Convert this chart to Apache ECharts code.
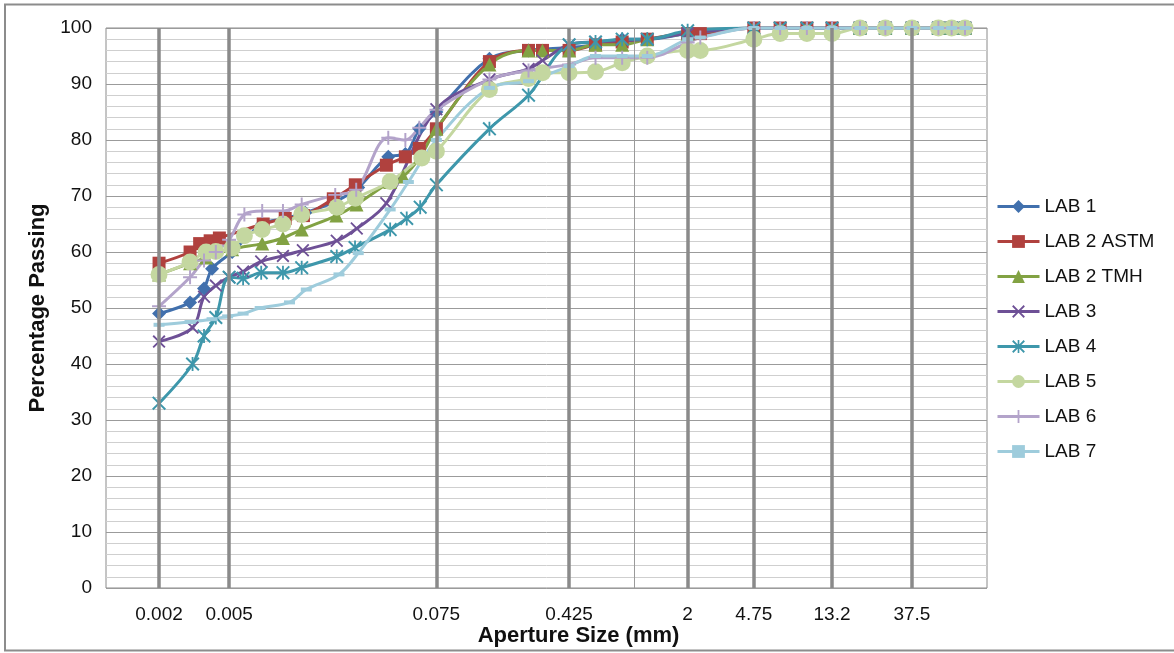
<!DOCTYPE html>
<html>
<head>
<meta charset="utf-8">
<script src="https://cdn.jsdelivr.net/npm/echarts@6/dist/echarts.min.js"></script>
<style>
  html, body { margin: 0; padding: 0; background: #ffffff; }
  #chart { width: 1174px; height: 653px; }
</style>
</head>
<body>
<div id="chart"></div>
<script>
// Particle size distribution: aperture size (mm) vs percentage passing, per lab.
const lab1Size = [0.002, 0.003, 0.0036, 0.004, 0.0052, 0.0077, 0.0104, 0.0135, 0.02, 0.027, 0.04, 0.05, 0.06, 0.075, 0.15, 0.25, 0.425, 0.6, 0.85, 1.18, 2, 4.75, 6.7, 9.5, 13.2, 19, 26.5, 37.5, 53, 63, 75];
const lab1Pass = [49, 51, 53.5, 57, 60, 65, 66, 67, 69, 71.5, 77, 77.5, 82, 85, 94.5, 96, 96.5, 97, 98, 98, 99, 100, 100, 100, 100, 100, 100, 100, 100, 100, 100];

const lab2AstmSize = [0.002, 0.003, 0.0034, 0.0039, 0.0044, 0.0078, 0.0104, 0.0132, 0.0195, 0.026, 0.039, 0.05, 0.06, 0.075, 0.15, 0.25, 0.3, 0.425, 0.6, 0.85, 1.18, 2, 2.36, 4.75, 6.7, 9.5, 13.2, 19, 26.5, 37.5, 53, 63, 75];
const lab2AstmPass = [58, 60, 61.5, 62, 62.5, 65, 66, 66.5, 69.5, 72, 75.5, 77, 78.5, 82, 94, 96, 96, 96, 97, 97.5, 98, 99, 99, 100, 100, 100, 100, 100, 100, 100, 100, 100, 100];

const lab2TmhSize = [0.002, 0.003, 0.0037, 0.0052, 0.0077, 0.0101, 0.0129, 0.0203, 0.0264, 0.041, 0.0486, 0.0607, 0.075, 0.15, 0.25, 0.3, 0.425, 0.6, 0.85, 1.18, 2, 4.75, 6.7, 9.5, 13.2, 19, 26.5, 37.5, 53, 63, 75];
const lab2TmhPass = [56, 58, 59, 60.5, 61.5, 62.5, 64, 66.5, 68.5, 72.5, 73.5, 77, 82, 93.5, 96, 96, 96, 97, 97, 98, 99, 100, 100, 100, 100, 100, 100, 100, 100, 100, 100];

const lab3Size = [0.002, 0.0031, 0.0036, 0.0042, 0.005, 0.006, 0.0076, 0.0101, 0.0131, 0.0204, 0.0265, 0.039, 0.075, 0.15, 0.25, 0.3, 0.425, 0.6, 1.18, 2, 4.75, 6.7, 9.5, 13.2, 19, 26.5, 37.5, 53, 63, 75];
const lab3Pass = [44, 46.5, 52, 54, 55.5, 56.5, 58.3, 59.3, 60.3, 62, 64.2, 68.7, 85.5, 90.8, 92.7, 94.2, 97, 97.5, 98, 99, 100, 100, 100, 100, 100, 100, 100, 100, 100, 100];

const lab4Size = [0.002, 0.0031, 0.0036, 0.0042, 0.005, 0.006, 0.0076, 0.0101, 0.0129, 0.0204, 0.0259, 0.041, 0.0509, 0.0607, 0.075, 0.15, 0.25, 0.425, 0.6, 0.85, 1.18, 2, 4.75, 6.7, 9.5, 13.2, 19, 26.5, 37.5, 53, 63, 75];
const lab4Pass = [33, 40, 45, 48.3, 55.5, 55.3, 56.3, 56.3, 57.2, 59.2, 60.8, 64, 66, 68, 72, 82, 88, 97, 97.5, 98, 98, 99.5, 100, 100, 100, 100, 100, 100, 100, 100, 100, 100];

const lab5Size = [0.002, 0.003, 0.0037, 0.0042, 0.0052, 0.0061, 0.0077, 0.0101, 0.0129, 0.0204, 0.026, 0.041, 0.062, 0.075, 0.15, 0.25, 0.3, 0.425, 0.6, 0.85, 1.18, 2, 2.36, 4.75, 6.7, 9.5, 13.2, 19, 26.5, 37.5, 53, 63, 75];
const lab5Pass = [56, 58.2, 60, 60.1, 60.7, 62.9, 64, 65, 66.7, 68, 69.6, 72.6, 76.8, 78, 89, 91, 92, 92, 92.2, 93.8, 95, 96, 96, 98, 99, 99, 99, 100, 100, 100, 100, 100, 100];

const lab6Size = [0.002, 0.003, 0.0036, 0.0042, 0.005, 0.0061, 0.0077, 0.0101, 0.0129, 0.02, 0.0263, 0.04, 0.05, 0.06, 0.075, 0.15, 0.25, 0.425, 0.6, 0.85, 1.18, 2, 2.36, 4.75, 6.7, 9.5, 13.2, 19, 26.5, 37.5, 53, 63, 75];
const lab6Pass = [50.3, 55.5, 58.5, 60, 62.2, 66.7, 67.3, 67.3, 68.5, 70.2, 71.1, 80.4, 80, 82.2, 85.4, 90.8, 92.4, 93.5, 94.7, 94.7, 94.7, 97.4, 98.3, 100, 100, 100, 100, 100, 100, 100, 100, 100, 100];

const lab7Size = [0.002, 0.003, 0.004, 0.0049, 0.006, 0.0075, 0.011, 0.0137, 0.021, 0.027, 0.041, 0.052, 0.075, 0.15, 0.25, 0.425, 0.6, 0.85, 1.18, 2, 2.36, 4.75, 6.7, 9.5, 13.2, 19, 26.5, 37.5, 53, 63, 75];
const lab7Pass = [47, 47.5, 48, 48.5, 49, 50, 51, 53.3, 56, 59.8, 67.6, 72.5, 80, 89.3, 90.5, 93.2, 95, 95, 95, 98, 98.3, 100, 100, 100, 100, 100, 100, 100, 100, 100, 100];

const labNames = ['LAB 1', 'LAB 2 ASTM', 'LAB 2 TMH', 'LAB 3', 'LAB 4', 'LAB 5', 'LAB 6', 'LAB 7'];
const labSizes = [lab1Size, lab2AstmSize, lab2TmhSize, lab3Size, lab4Size, lab5Size, lab6Size, lab7Size];
const labPasses = [lab1Pass, lab2AstmPass, lab2TmhPass, lab3Pass, lab4Pass, lab5Pass, lab6Pass, lab7Pass];

// Standard sieve apertures marked on the size axis
const sieveTicks = [0.002, 0.005, 0.075, 0.425, 2, 4.75, 13.2, 37.5];
const sieveTickLabels = ['0.002', '0.005', '0.075', '0.425', '2', '4.75', '13.2', '37.5'];
const unitLine = 1;

// Marker shapes
const crossPath = 'path://M0 1L1 0L5 4L9 0L10 1L6 5L10 9L9 10L5 6L1 10L0 9L4 5Z';
const starPath = 'path://M0 1L1 0L5 4L9 0L10 1L6 5L10 9L9 10L5 6L1 10L0 9L4 5Z M4.35 0L5.65 0L5.65 10L4.35 10Z';
const plusPath = 'path://M4.3 0L5.7 0L5.7 4.3L10 4.3L10 5.7L5.7 5.7L5.7 10L4.3 10L4.3 5.7L0 5.7L0 4.3L4.3 4.3Z';

const labStyles = [
  { color: '#4170AD', symbol: 'diamond', symbolSize: 14 },
  { color: '#B0413E', symbol: 'rect', symbolSize: 13 },
  { color: '#82A243', symbol: 'triangle', symbolSize: 14 },
  { color: '#6E5096', symbol: crossPath, symbolSize: 13 },
  { color: '#3E97AB', symbol: starPath, symbolSize: 14 },
  { color: '#C4D7A0', symbol: 'circle', symbolSize: 17 },
  { color: '#B3A3CA', symbol: plusPath, symbolSize: 14 },
  { color: '#9ECCDC', symbol: 'rect', symbolSize: [11, 4] }
];

const FONT = '"Liberation Sans", Arial, sans-serif';

const chart = echarts.init(document.getElementById('chart'), null, { renderer: 'canvas' });

const labSeries = labNames.map((name, i) => ({
  name: name,
  type: 'line',
  smooth: 0.35,
  z: 3,
  data: labSizes[i].map((s, k) => [s, labPasses[i][k]]),
  symbol: labStyles[i].symbol,
  symbolSize: labStyles[i].symbolSize,
  showAllSymbol: true,
  lineStyle: { color: labStyles[i].color, width: 3 },
  itemStyle: { color: labStyles[i].color, borderWidth: 0 },
  emphasis: { disabled: true }
}));

const guideLines = sieveTicks.map((v, i) => ({
  xAxis: v,
  label: { formatter: sieveTickLabels[i] },
  lineStyle: { width: 3.5, color: '#8a8a8a', type: 'solid' }
}));
guideLines.push({
  xAxis: unitLine,
  label: { show: false },
  lineStyle: { width: 1, color: '#9a9a9a', type: 'solid' }
});

const guideSeries = {
  name: 'sieves',
  type: 'line',
  data: [],
  z: 1,
  silent: true,
  markLine: {
    silent: true,
    animation: false,
    precision: 6,
    symbol: ['none', 'none'],
    label: {
      show: true,
      position: 'start',
      distance: 17,
      fontSize: 19,
      color: '#111',
      fontFamily: FONT
    },
    data: guideLines
  }
};

chart.setOption({
  animation: false,
  textStyle: { fontFamily: FONT },
  graphic: [{
    type: 'rect',
    shape: { x: 5, y: 4.5, width: 1200, height: 646 },
    style: { fill: 'none', stroke: '#8c8c8c', lineWidth: 2 },
    silent: true,
    z: -10
  }],
  grid: {
    left: 106, right: 187, top: 28, bottom: 65,
    show: true, borderColor: '#8a8a8a', borderWidth: 1
  },
  legend: {
    orient: 'vertical',
    left: 991,
    top: 192,
    itemWidth: 42,
    itemHeight: 16,
    itemGap: 16,
    data: labNames,
    lineStyle: { width: 3 },
    textStyle: { fontSize: 19, color: '#111', fontFamily: FONT }
  },
  xAxis: {
    type: 'log',
    logBase: 10,
    min: 0.001,
    max: 100,
    name: 'Aperture Size (mm)',
    nameLocation: 'middle',
    nameGap: 37,
    nameTextStyle: { fontSize: 22, fontWeight: 'bold', color: '#111', fontFamily: FONT, padding: [0, 0, 0, 64] },
    axisLine: { show: false },
    axisTick: { show: false },
    axisLabel: { show: false },
    splitLine: { show: false },
    minorSplitLine: { show: false }
  },
  yAxis: {
    type: 'value',
    min: 0,
    max: 100,
    interval: 10,
    name: 'Percentage Passing',
    nameLocation: 'middle',
    nameGap: 56,
    nameTextStyle: { fontSize: 22, fontWeight: 'bold', color: '#111', fontFamily: FONT },
    axisLine: { show: false },
    axisTick: { show: false },
    axisLabel: { fontSize: 19, color: '#111', margin: 14, fontFamily: FONT },
    splitLine: { lineStyle: { color: '#9b9b9b', width: 1 } },
    minorTick: { show: false, splitNumber: 5 },
    minorSplitLine: { show: true, lineStyle: { color: '#cfcfcf', width: 1 } }
  },
  series: [guideSeries].concat(labSeries)
});
</script>
</body>
</html>
